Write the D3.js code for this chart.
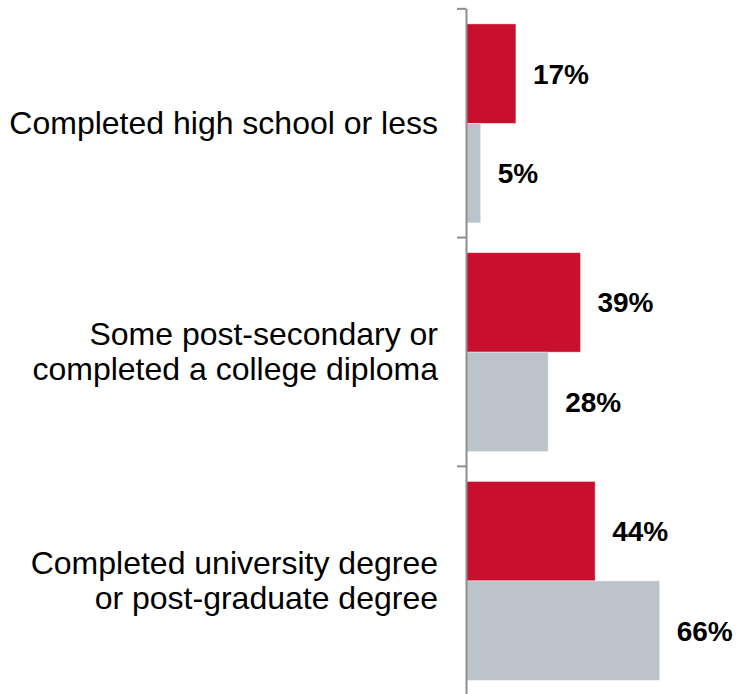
<!DOCTYPE html>
<html>
<head>
<meta charset="utf-8">
<script src="https://cdn.jsdelivr.net/npm/d3@7"></script>
<style>
  html, body { margin: 0; padding: 0; background: #fff; }
  svg { display: block; font-family: Arial, "Liberation Sans", sans-serif; }
</style>
</head>
<body>
<svg id="chart" width="736" height="694"></svg>
<script>
// Education level categories (each label may wrap onto several lines)
const categories = [
  ["Completed high school or less"],
  ["Some post-secondary or", "completed a college diploma"],
  ["Completed university degree", "or post-graduate degree"]
];
const seriesNames = ["first", "second"];
const firstValues = [17, 39, 44];
const secondValues = [5, 28, 66];
const seriesColors = ["#c8102e", "#bcc3ca"];

const width = 736, height = 694;
const svg = d3.select("#chart");

const axisX = 466;
const plotTop = 8.3, plotBottom = 694.6;

const y = d3.scaleBand()
  .domain(d3.range(categories.length))
  .range([plotTop, plotBottom])
  .paddingInner(0)
  .paddingOuter(0);

const yInner = d3.scaleBand()
  .domain(seriesNames)
  .range([15.6, y.bandwidth() - 14.2])
  .padding(0);

const x = d3.scaleLinear().domain([0, 100]).range([axisX, axisX + 293.5]);

const rows = categories.map((c, i) => ({
  index: i,
  label: c,
  values: [firstValues[i], secondValues[i]]
}));

// Bars
const groups = svg.selectAll("g.group")
  .data(rows)
  .join("g")
  .attr("class", "group")
  .attr("transform", d => `translate(0,${y(d.index)})`);

groups.selectAll("rect")
  .data(d => d.values.map((v, j) => ({ v, s: seriesNames[j], j })))
  .join("rect")
  .attr("x", x(0))
  .attr("y", d => yInner(d.s))
  .attr("width", d => x(d.v) - x(0))
  .attr("height", yInner.bandwidth())
  .attr("fill", d => seriesColors[d.j])
  .attr("stroke", "#ffffff")
  .attr("stroke-opacity", 0.5)
  .attr("stroke-width", 0.8);

// Value labels
groups.selectAll("text.value")
  .data(d => d.values.map((v, j) => ({ v, s: seriesNames[j] })))
  .join("text")
  .attr("class", "value")
  .attr("x", d => x(d.v) + 17)
  .attr("y", d => yInner(d.s) + yInner.bandwidth() / 2)
  .attr("dy", "0.36em")
  .attr("font-size", 28)
  .attr("font-weight", "bold")
  .attr("fill", "#000")
  .text(d => d.v + "%");

// Category labels
const lineHeight = 35;
groups.append("text")
  .attr("class", "category")
  .attr("text-anchor", "end")
  .attr("font-size", 32)
  .attr("fill", "#000")
  .each(function (d) {
    const t = d3.select(this);
    const n = d.label.length;
    const cy = y.bandwidth() / 2;
    d.label.forEach((line, k) => {
      t.append("tspan")
        .attr("x", 438)
        .attr("y", cy + (k - (n - 1) / 2) * lineHeight)
        .attr("dy", "0.36em")
        .text(line);
    });
  });

// Category axis with ticks at group boundaries
const boundary = d3.scaleLinear().domain([0, categories.length]).range([plotTop, plotBottom]);
const axis = svg.append("g")
  .attr("transform", `translate(${axisX},0)`)
  .call(d3.axisLeft(boundary)
    .tickValues(d3.range(categories.length + 1))
    .tickSize(9)
    .tickSizeOuter(0)
    .tickFormat(""));
axis.selectAll("path, line")
  .attr("stroke", "#8e8e8e")
  .attr("stroke-width", 2);
</script>
</body>
</html>
